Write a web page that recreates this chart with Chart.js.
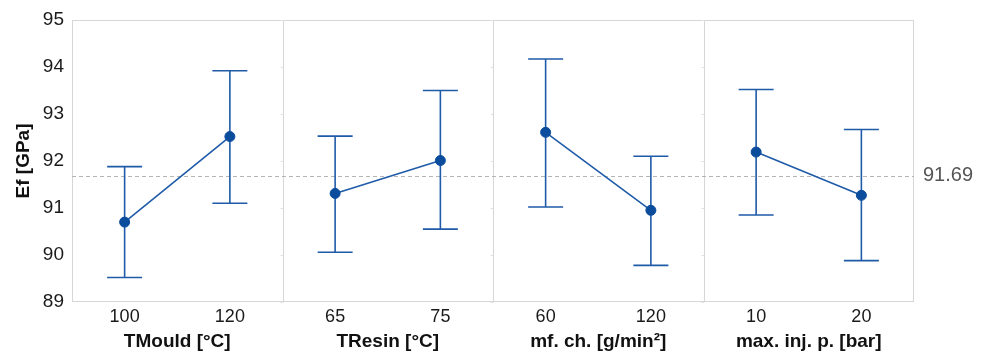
<!DOCTYPE html>
<html>
<head>
<meta charset="utf-8">
<script src="https://cdn.jsdelivr.net/npm/chart.js@4"></script>
<style>
html,body{margin:0;padding:0;background:#fff}
#wrap{width:988px;height:352px}
</style>
</head>
<body>
<div id="wrap"><canvas id="effects"></canvas></div>
<script>
// main effects data
const panelTitles = ["TMould [°C]", "TResin [°C]", "mf. ch. [g/min²]", "max. inj. p. [bar]"]
const levelLabels = ["100", "120", "65", "75", "60", "120", "10", "20"]
const means = [90.70, 92.52, 91.31, 92.01, 92.61, 90.95, 92.19, 91.27]
const upper = [91.88, 93.92, 92.53, 93.50, 94.17, 92.10, 93.52, 92.67]
const lower = [89.52, 91.10, 90.06, 90.55, 91.02, 89.78, 90.85, 89.88]
const grandMean = 91.69
const yTicks = [89, 90, 91, 92, 93, 94, 95]

const lineColor = "#1f5ba8"
const dotColor = "#0b4c9c"
const font = "'Liberation Sans', Arial, sans-serif"

// each factor gets a panel 2 units wide, levels sit at +0.5 and +1.5
const levelPos = levelLabels.map((l, i) => i + 0.5)
const titlePos = panelTitles.map((t, i) => i * 2 + 1)

const datasets = panelTitles.map((t, p) => ({
  label: t,
  data: [
    {x: levelPos[2 * p], y: means[2 * p]},
    {x: levelPos[2 * p + 1], y: means[2 * p + 1]}
  ],
  showLine: true,
  borderColor: lineColor,
  borderWidth: 1.6,
  pointRadius: 5,
  pointBorderWidth: 1,
  pointBackgroundColor: dotColor,
  pointBorderColor: dotColor,
  pointHoverRadius: 5
}))

const panelPlugin = {
  id: "panels",
  beforeDatasetsDraw(chart){
    const c = chart.ctx
    const a = chart.chartArea
    const xs = chart.scales.x
    const ys = chart.scales.y
    c.save()
    // frame and dividers
    c.strokeStyle = "#d6d6d6"
    c.lineWidth = 1
    c.strokeRect(a.left + 0.5, a.top + 0.5, a.right - a.left - 1, a.bottom - a.top - 1)
    for(let p = 1; p < panelTitles.length; p++){
      const x = Math.round(xs.getPixelForValue(p * 2)) + 0.5
      c.beginPath()
      c.moveTo(x, a.top)
      c.lineTo(x, a.bottom)
      c.stroke()
      // tiny tick marks on the divider
      c.strokeStyle = "#e2e2e2"
      yTicks.forEach(v => {
        const y = Math.round(ys.getPixelForValue(v)) + 0.5
        c.beginPath()
        c.moveTo(x - 3, y)
        c.lineTo(x, y)
        c.stroke()
      })
      c.strokeStyle = "#d6d6d6"
    }
    // grand mean
    const gy = Math.round(ys.getPixelForValue(grandMean)) + 0.5
    c.strokeStyle = "#b5b5b5"
    c.setLineDash([4, 3])
    c.beginPath()
    c.moveTo(a.left, gy)
    c.lineTo(a.right, gy)
    c.stroke()
    c.setLineDash([])
    // error bars
    c.strokeStyle = lineColor
    c.lineWidth = 1.6
    levelPos.forEach((v, i) => {
      const x = xs.getPixelForValue(v)
      const yu = ys.getPixelForValue(upper[i])
      const yl = ys.getPixelForValue(lower[i])
      c.beginPath()
      c.moveTo(x, yu)
      c.lineTo(x, yl)
      c.moveTo(x - 17.5, yu)
      c.lineTo(x + 17.5, yu)
      c.moveTo(x - 17.5, yl)
      c.lineTo(x + 17.5, yl)
      c.stroke()
    })
    c.restore()
  },
  afterDraw(chart){
    const c = chart.ctx
    const a = chart.chartArea
    const gy = chart.scales.y.getPixelForValue(grandMean)
    c.save()
    c.fillStyle = "#555"
    c.font = "20px " + font
    c.textBaseline = "middle"
    c.fillText(grandMean.toFixed(2), a.right + 9, gy)
    c.restore()
  }
}

new Chart(document.getElementById("effects"), {
  type: "scatter",
  data: {datasets: datasets},
  plugins: [panelPlugin],
  options: {
    responsive: true,
    maintainAspectRatio: false,
    animation: false,
    layout: {padding: {left: 0, right: 74, top: 20, bottom: 0}},
    plugins: {legend: {display: false}, tooltip: {enabled: false}},
    scales: {
      x: {
        type: "linear",
        min: 0,
        max: levelLabels.length,
        afterBuildTicks: s => { s.ticks = levelPos.map(v => ({value: v})) },
        afterFit: s => { s.height = 28 },
        ticks: {
          autoSkip: false,
          maxRotation: 0,
          padding: 4,
          color: "#1a1a1a",
          font: {family: font, size: 18},
          callback: (v, i) => levelLabels[i]
        },
        grid: {display: false, drawTicks: false},
        border: {display: false}
      },
      x2: {
        type: "linear",
        position: "bottom",
        min: 0,
        max: levelLabels.length,
        afterBuildTicks: s => { s.ticks = titlePos.map(v => ({value: v})) },
        afterFit: s => { s.height = 22 },
        ticks: {
          autoSkip: false,
          maxRotation: 0,
          padding: 0,
          color: "#111",
          font: {family: font, size: 19, weight: "bold"},
          callback: (v, i) => panelTitles[i]
        },
        grid: {display: false, drawTicks: false},
        border: {display: false}
      },
      y: {
        min: yTicks[0],
        max: yTicks[yTicks.length - 1],
        afterBuildTicks: s => { s.ticks = yTicks.map(v => ({value: v})) },
        afterFit: s => { s.width = 72 },
        ticks: {
          padding: 8,
          color: "#1a1a1a",
          font: {family: font, size: 19}
        },
        title: {
          display: true,
          text: "Ef [GPa]",
          color: "#111",
          padding: {top: 12, bottom: 0},
          font: {family: font, size: 19, weight: "bold"}
        },
        grid: {display: false, drawTicks: false},
        border: {display: false}
      }
    }
  }
})
</script>
</body>
</html>
